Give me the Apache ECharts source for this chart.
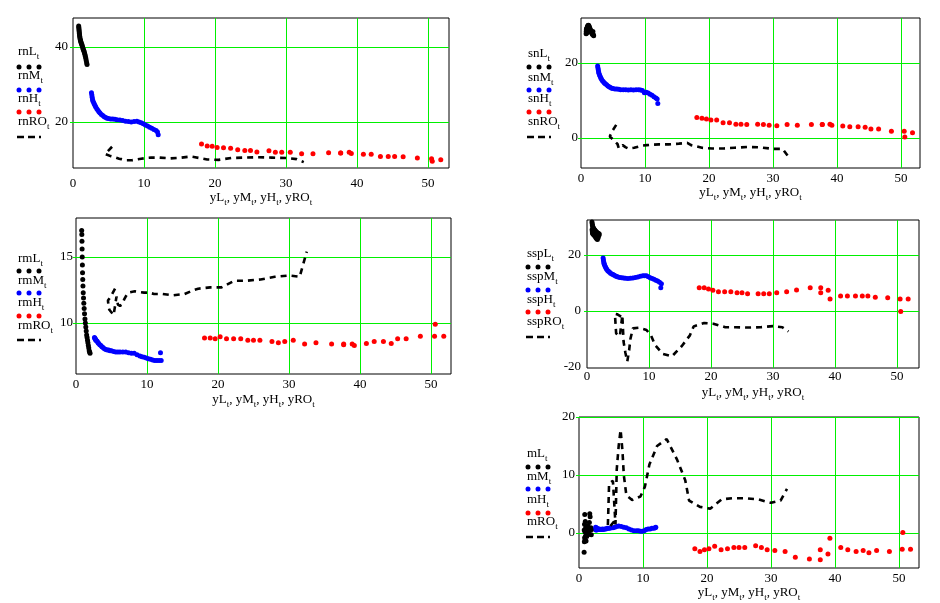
<!DOCTYPE html>
<html><head><meta charset="utf-8">
<script src="https://cdn.jsdelivr.net/npm/echarts@6/dist/echarts.min.js"></script>
<style>html,body{margin:0;padding:0;background:#fff}#c{width:940px;height:603px}</style>
</head><body><div id="c"></div>
<script>
// ---- shared x values ----
const xL = [0.80,0.82,0.84,0.86,0.88,0.90,0.92,0.95,0.98,1.02,1.06,1.10,1.15,1.20,1.26,1.32,1.38,1.44,1.50,1.56,1.62,1.68,1.74,1.80,1.86,1.92,1.98];
const xM = [2.6,2.65,2.7,2.75,2.8,2.9,3.0,3.1,3.2,3.35,3.5,3.65,3.8,4.0,4.2,4.4,4.6,4.8,5.0,5.3,5.6,5.9,6.2,6.6,7.0,7.4,7.8,8.2,8.6,9.0,9.3,9.6,9.9,10.2,10.5,10.8,11.1,11.4,11.7,11.9,12.0];
const xH = [18.1,18.9,19.6,20.3,21.2,22.2,23.2,24.2,25.0,25.9,27.6,28.5,29.4,30.6,32.2,33.8,36.0,37.7,37.7,38.9,39.2,40.9,42.0,43.3,44.4,45.3,46.5,48.5,50.5,50.6,51.8];
const xRO = [5.5,4.9,4.5,4.6,4.7,5.3,5.7,5.9,6.2,6.5,6.8,7.0,7.4,8.3,9.6,10.3,11.0,12.2,13.7,15.3,16.6,17.2,18.9,20.5,22.3,24,26,28,30,31.5,32.5];

// ---- panel 1: rn ----
const rnL = [45.6,45.2,44.8,44.4,44.0,43.6,43.2,42.8,42.4,42.0,41.7,41.4,41.1,40.8,40.6,40.2,39.8,39.4,39.1,38.8,38.4,38.0,37.5,37.0,36.4,35.8,35.3];
const rnM = [27.8,27.2,26.6,26.0,25.6,25.2,24.8,24.4,24.0,23.5,23.1,22.7,22.4,22.0,21.7,21.4,21.2,21.0,20.9,20.8,20.8,20.7,20.6,20.5,20.4,20.2,20.1,20.0,20.1,20.2,20.0,19.8,19.5,19.2,18.9,18.6,18.3,18.0,17.7,17.3,16.6];
const rnH = [14.1,13.6,13.5,13.2,13.1,13.0,12.6,12.4,12.4,12.0,12.3,11.9,11.9,11.9,11.5,11.5,11.8,11.7,11.7,11.9,11.6,11.4,11.4,10.8,10.8,10.8,10.7,10.4,10.2,9.5,9.9];
const rnRO = [13.4,12.2,11.5,11.2,11.1,10.9,10.7,10.6,10.4,10.2,10.1,10.0,9.8,9.8,10.2,10.4,10.5,10.5,10.3,10.5,10.8,10.6,10.0,9.9,10.4,10.5,10.6,10.5,10.4,10.1,9.3];

// ---- panel 2: sn ----
const snL = [27.8,28.4,28.9,29.2,28.6,28.0,28.5,29.0,29.4,29.7,29.9,30.0,30.1,30.0,29.8,29.5,29.2,29.0,28.7,28.5,28.2,28.0,27.8,27.6,28.4,27.6,27.3];
const snM = [19.2,18.7,18.2,17.7,17.3,16.8,16.4,16.0,15.7,15.3,15.0,14.7,14.5,14.2,13.9,13.7,13.5,13.3,13.2,13.1,13.1,13.0,12.9,12.9,12.9,12.8,12.9,12.8,12.9,12.9,12.8,12.7,12.1,12.2,12.0,11.7,11.4,11.0,10.7,10.4,9.2];
const snH = [5.5,5.3,5.1,4.8,4.8,4.1,4.1,3.7,3.7,3.6,3.7,3.6,3.4,3.3,3.6,3.4,3.6,3.6,3.6,3.7,3.4,3.2,3.0,3.0,2.9,2.4,2.4,1.8,1.8,0.3,1.4];
const snRO = [3.5,1.9,0.4,0.2,0.0,-0.9,-1.6,-2.7,-2.2,-1.9,-2.2,-2.5,-2.8,-2.6,-2.0,-1.9,-1.8,-1.7,-1.7,-1.5,-1.3,-1.9,-2.6,-2.8,-2.8,-2.6,-2.4,-2.5,-2.9,-2.9,-5.2];

// ---- panel 3: rm ----
const rmL = [17.0,16.7,16.2,15.6,15.0,14.4,13.8,13.3,12.8,12.3,11.9,11.5,11.1,10.7,10.3,10.0,9.7,9.4,9.1,8.9,8.7,8.5,8.3,8.1,7.9,7.8,7.7];
const rmM = [8.9,8.85,8.8,8.75,8.7,8.65,8.6,8.5,8.45,8.35,8.3,8.2,8.15,8.05,8.0,7.95,7.95,7.9,7.9,7.85,7.8,7.8,7.8,7.8,7.8,7.75,7.7,7.7,7.6,7.5,7.45,7.4,7.35,7.3,7.25,7.2,7.15,7.15,7.15,7.75,7.15];
const rmH = [8.86,8.86,8.8,8.95,8.8,8.8,8.8,8.7,8.7,8.7,8.6,8.5,8.6,8.7,8.4,8.5,8.4,8.35,8.4,8.4,8.3,8.45,8.6,8.6,8.45,8.8,8.8,9.0,9.0,9.9,9.0];
const rmRO = [12.6,12.0,11.7,11.2,11.0,10.6,12.0,11.4,11.3,11.4,11.8,12.0,12.3,12.4,12.3,12.3,12.2,12.2,12.1,12.2,12.5,12.6,12.7,12.7,13.2,13.2,13.3,13.5,13.6,13.5,15.4];

// ---- panel 4: ssp ----
const sspL = [31.8,29.0,31.2,28.3,30.6,27.8,30.2,27.6,29.8,27.4,29.5,27.2,29.2,27.0,28.9,26.6,28.6,26.2,28.3,25.8,28.0,25.5,27.8,26.2,27.7,27.0,27.5];
const sspM = [18.9,18.2,17.5,17.0,16.6,16.1,15.6,15.2,14.8,14.4,14.1,13.8,13.5,13.2,13.0,12.8,12.5,12.3,12.1,12.0,11.9,11.8,11.7,11.6,11.7,11.8,12.0,12.1,12.4,12.6,12.6,12.6,12.2,11.9,11.6,11.3,11.0,10.7,10.3,8.3,9.7];
const sspH = [8.3,8.3,7.9,7.4,6.9,6.9,6.9,6.5,6.5,6.2,6.2,6.2,6.2,6.5,6.9,7.5,8.3,8.3,6.5,7.4,4.3,5.4,5.4,5.4,5.4,5.4,4.9,4.7,4.3,-0.2,4.3];
const sspRO = [-2.0,-1.2,-1.0,-4.5,-8.0,-9.0,-1.5,-11.0,-15.0,-18.0,-14.0,-10.0,-6.2,-6.0,-6.8,-8.6,-12.2,-15.3,-16.2,-12.5,-8.7,-5.5,-4.3,-4.6,-5.8,-5.8,-5.9,-5.8,-5.4,-5.8,-7.3];

// ---- panel 5: m ----
const mL = [-3.3,0.5,-1.5,1.5,-0.8,3.2,0.2,-1.2,2.0,-0.5,1.0,-1.4,0.4,-0.6,0.8,-0.3,1.2,0.0,0.6,-0.2,1.8,3.3,2.8,0.5,0.9,-0.3,0.6];
const mM = [1.0,0.5,0.9,0.5,0.8,0.6,0.7,0.6,0.7,0.6,0.6,0.7,0.6,0.7,0.7,0.8,0.8,0.8,0.9,0.9,1.0,1.1,1.2,1.1,1.0,0.9,0.7,0.5,0.4,0.4,0.4,0.3,0.3,0.4,0.6,0.7,0.7,0.8,0.8,0.9,1.0];
const mH = [-2.7,-3.2,-2.9,-2.7,-2.3,-2.9,-2.7,-2.5,-2.5,-2.5,-2.2,-2.5,-2.9,-3.0,-3.2,-4.2,-4.5,-2.9,-4.6,-3.6,-0.9,-2.5,-2.9,-3.2,-3.0,-3.4,-3.0,-3.2,-2.8,0.1,-2.8];
const mRO = [2.0,1.2,1.0,4.5,8.5,9.0,1.5,11.0,15.0,17.8,14.0,10.0,6.5,5.7,6.3,8.0,11.8,15.0,16.2,12.7,9.1,5.6,4.5,4.2,5.8,6.0,6.0,5.8,5.2,5.6,7.6];

// ---- tick labels ----
const xTickLabels = [0,10,20,30,40,50];
const xGridValues = [10,20,30,40,50];
const prefixes = ['rn','sn','rm','ssp','m'];
const yLabelSets = [[20,40],[0,20],[10,15],[-20,0,20],[0,10,20]];
const yGridSets = [[20,40],[0,20],[10,15],[0,20],[0,10,20]];
const xMaxes = [52.958,52.969,52.817,53.548,53.125];
const yRanges = [[7.733,47.733],[-8,32],[6.136,17.955],[-20.357,32.5],[-6.034,20]];
const panelData = [
  [rnL,rnM,rnH,rnRO],[snL,snM,snH,snRO],[rmL,rmM,rmH,rmRO],[sspL,sspM,sspH,sspRO],[mL,mM,mH,mRO]
];

// ---- layout (pixels) ----
const layout = [
  {grid:{left:73,top:18,width:376,height:150}, xm:9, ym:5, gap:16, lx:18, ly:[53,67,77,90,100,112,123,137]},
  {grid:{left:581,top:18,width:339,height:150}, xm:4, ym:3, gap:16, lx:528, ly:[55,67,79,90,100,112,123,137]},
  {grid:{left:76,top:218,width:375,height:156}, xm:4, ym:3, gap:19, lx:18, ly:[260,271,282,293,304,316,327,340]},
  {grid:{left:587,top:220,width:332,height:148}, xm:2, ym:6, gap:18, lx:527, ly:[255,267,278,290,301,312,323,337]},
  {grid:{left:579,top:417,width:340,height:151}, xm:4, ym:4, gap:18, lx:527, ly:[455,467,478,489,501,513,523,537]}
];

const FONT = '"Liberation Serif","Times New Roman",serif';
const GREEN = '#00f000';
const COLORS = ['#000000','#0000ff','#ff0000','#000000'];
const sufs = ['L','M','H','RO'];
const xsets = [xL,xM,xH,xRO];

const richSub = {
  n:{fontSize:13, fontFamily:FONT, color:'#000', lineHeight:16, verticalAlign:'top'},
  s:{fontSize:9, fontFamily:FONT, color:'#000', verticalAlign:'bottom'}
};

const grids=[], xAxes=[], yAxes=[], series=[], graphics=[];
layout.forEach((lo, p) => {
  grids.push(Object.assign({show:true, borderColor:'#000', borderWidth:1, backgroundColor:'transparent'}, lo.grid));
  xAxes.push({
    type:'value', gridIndex:p, min:0, max:xMaxes[p], interval:10,
    axisLine:{show:false}, axisTick:{show:false, customValues:xGridValues},
    splitLine:{show:true, lineStyle:{color:GREEN, width:1, opacity:1}},
    axisLabel:{customValues:xTickLabels, margin:lo.xm, fontFamily:FONT, fontSize:13, color:'#000'},
    name:'{n|yL}{s|t}{n|, yM}{s|t}{n|, yH}{s|t}{n|, yRO}{s|t}',
    nameLocation:'middle', nameGap:lo.gap,
    nameTextStyle:{rich:richSub}
  });
  yAxes.push({
    type:'value', gridIndex:p, min:yRanges[p][0], max:yRanges[p][1],
    axisLine:{show:false},
    axisTick:{show:true, length:3, customValues:yGridSets[p], lineStyle:{color:GREEN}},
    splitLine:{show:true, lineStyle:{color:GREEN, width:1, opacity:1}},
    axisLabel:{customValues:yLabelSets[p], margin:lo.ym, fontFamily:FONT, fontSize:13, color:'#000'}
  });
  const d = panelData[p];
  for (let k=0;k<4;k++){
    const pts = xsets[k].map((x,i)=>[x,d[k][i]]);
    if (k<3){
      series.push({type:'scatter', xAxisIndex:p, yAxisIndex:p, data:pts, symbol:'circle', symbolSize:5,
        itemStyle:{color:COLORS[k], opacity:1}, silent:true});
    } else {
      series.push({type:'line', xAxisIndex:p, yAxisIndex:p, data:pts, symbol:'none', showSymbol:false,
        lineStyle:{color:'#000', width:2.6, type:[6,5]}, silent:true});
    }
    // legend
    graphics.push({type:'text', x:lo.lx, y:lo.ly[2*k], silent:true,
      style:{text:'{n|'+prefixes[p]+sufs[k]+'}{s|t}', rich:richSub, verticalAlign:'middle', fill:'#000'}});
    const sy = lo.ly[2*k+1];
    if (k<3){
      for (let j=0;j<3;j++){
        graphics.push({type:'circle', silent:true, shape:{cx:lo.lx+1+j*10, cy:sy, r:2.5}, style:{fill:COLORS[k]}});
      }
    } else {
      graphics.push({type:'line', silent:true, shape:{x1:lo.lx-1, y1:sy, x2:lo.lx+23, y2:sy},
        style:{stroke:'#000', lineWidth:2.5, lineDash:[7,4]}});
    }
  }
});

const chart = echarts.init(document.getElementById('c'), null, {renderer:'canvas'});
chart.setOption({
  animation:false,
  backgroundColor:'#fff',
  grid:grids, xAxis:xAxes, yAxis:yAxes, series:series,
  graphic:{elements:graphics}
});
</script></body></html>
